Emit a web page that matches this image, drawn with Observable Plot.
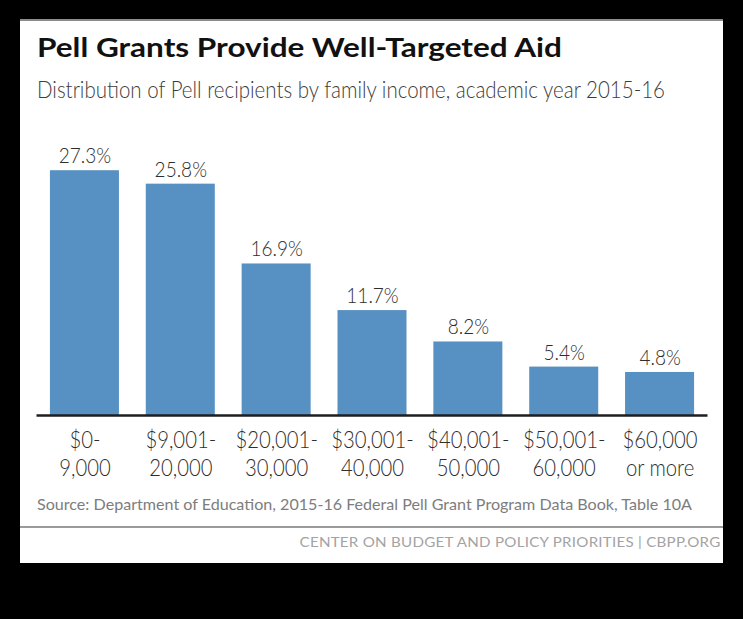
<!DOCTYPE html>
<html>
<head>
<meta charset="utf-8">
<script src="https://cdn.jsdelivr.net/npm/d3@7"></script>
<script src="https://cdn.jsdelivr.net/npm/@observablehq/plot@0.6"></script>
<style>
  html, body { margin: 0; padding: 0; background: #000; }
  body { width: 743px; height: 619px; position: relative; overflow: hidden; font-family: Lato, "Noto Sans", sans-serif; }
  #card { position: absolute; left: 20px; top: 19px; width: 703px; height: 542px; background: #fff; border-top: 2px solid #8c8c8c; }
  .txt { position: absolute; white-space: nowrap; line-height: 1.2; }
  #title { left: 37px; top: 30px; font-weight: 700; font-size: 27px; color: #111; transform-origin: left center; }
  #subtitle { left: 37px; top: 72px; font-size: 24px; font-weight: 300; color: #3c3c3c; transform-origin: left center; }
  #source { left: 37px; top: 490px; font-size: 16px; color: #7d7d7d; transform-origin: left center; }
  #footer { right: 22px; top: 535px; font-size: 12.5px; color: #a3a3a3; transform-origin: right center; letter-spacing: 0.2px; }
  #rule { position: absolute; left: 20px; width: 703px; top: 525.5px; height: 2px; background: #9a9a9a; }
  #chart { position: absolute; left: 20px; top: 130px; }
</style>
</head>
<body>
<div id="card"></div>
<div id="title" class="txt">Pell Grants Provide Well-Targeted Aid</div>
<div id="subtitle" class="txt">Distribution of Pell recipients by family income, academic year 2015-16</div>
<div id="source" class="txt">Source: Department of Education, 2015-16 Federal Pell Grant Program Data Book, Table 10A</div>
<div id="rule"></div>
<div id="footer" class="txt">CENTER ON BUDGET AND POLICY PRIORITIES | CBPP.ORG</div>
<div id="chart"></div>
<script>
// ---- data ----
const incomeBrackets = ["$0-\n9,000", "$9,001-\n20,000", "$20,001-\n30,000", "$30,001-\n40,000", "$40,001-\n50,000", "$50,001-\n60,000", "$60,000\nor more"];
const recipientShares = [27.3, 25.8, 16.9, 11.7, 8.2, 5.4, 4.8];
const yDomain = [0, 30];

const data = incomeBrackets.map((b, i) => ({bracket: b, share: recipientShares[i]}));

// ---- text fitting helpers ----
const cv = document.createElement("canvas").getContext("2d");
function measure(font, s) { cv.font = font; return cv.measureText(s).width; }

function fitHtml(id, targetWidth, baseline) {
  const el = document.getElementById(id);
  const w = el.getBoundingClientRect().width;
  el.style.transform = `scaleX(${targetWidth / w})`;
  const probe = document.createElement("span");
  probe.style.cssText = "display:inline-block;width:0;height:0;vertical-align:baseline;";
  el.appendChild(probe);
  const b = probe.getBoundingClientRect().bottom;
  probe.remove();
  el.style.top = (parseFloat(getComputedStyle(el).top) + baseline - b) + "px";
}

fitHtml("title", 525, 57);
fitHtml("subtitle", 628, 97.5);
fitHtml("source", 655, 509.5);
fitHtml("footer", 421, 546.5);

// ---- chart ----
const tickFont = 23, valueFont = 21;
const tickScale = 75 / measure(`300 ${tickFont}px Lato`, "$60,000");
const valueScale = 52.4 / measure(`300 ${valueFont}px Lato`, "27.3%");

const chart = Plot.plot({
  width: 703,
  height: 355,
  marginLeft: 16.5,
  marginRight: 15.5,
  marginTop: 16,
  marginBottom: 70,
  style: {background: "transparent", fontFamily: "Lato, 'Noto Sans', sans-serif", overflow: "visible"},
  x: {domain: incomeBrackets, paddingInner: 0.28, paddingOuter: 0.14, round: false, label: null},
  y: {domain: yDomain, axis: null},
  marks: [
    Plot.barY(data, {x: "bracket", y: "share", fill: "#5790c2"}),
    Plot.ruleY([0], {stroke: "#1e1e1e", strokeWidth: 2.5}),
    Plot.text(data, {x: "bracket", y: "share", text: d => `${d.share.toFixed(1)}%`, dy: -7.5, lineAnchor: "bottom", fontSize: valueFont, fontWeight: 300, fill: "#2e2e2e"}),
    Plot.axisX({tickSize: 0, tickPadding: 13, fontSize: tickFont, fontWeight: 300, lineHeight: 1.2, fill: "#2e2e2e", label: null})
  ]
});
document.getElementById("chart").appendChild(chart);

function squeeze(t, s) {
  const tr = t.getAttribute("transform") || "";
  const x = t.getAttribute("x");
  if (x != null && x !== "" && !isNaN(+x) && +x !== 0) {
    t.setAttribute("transform", `${tr} translate(${x},0) scale(${s},1)`);
    t.setAttribute("x", 0);
  } else {
    t.setAttribute("transform", `${tr} scale(${s},1)`);
  }
}
chart.querySelectorAll('g[aria-label="x-axis tick label"] text').forEach(t => squeeze(t, tickScale));
chart.querySelectorAll('g[aria-label="text"] text').forEach(t => squeeze(t, valueScale));
</script>
</body>
</html>
